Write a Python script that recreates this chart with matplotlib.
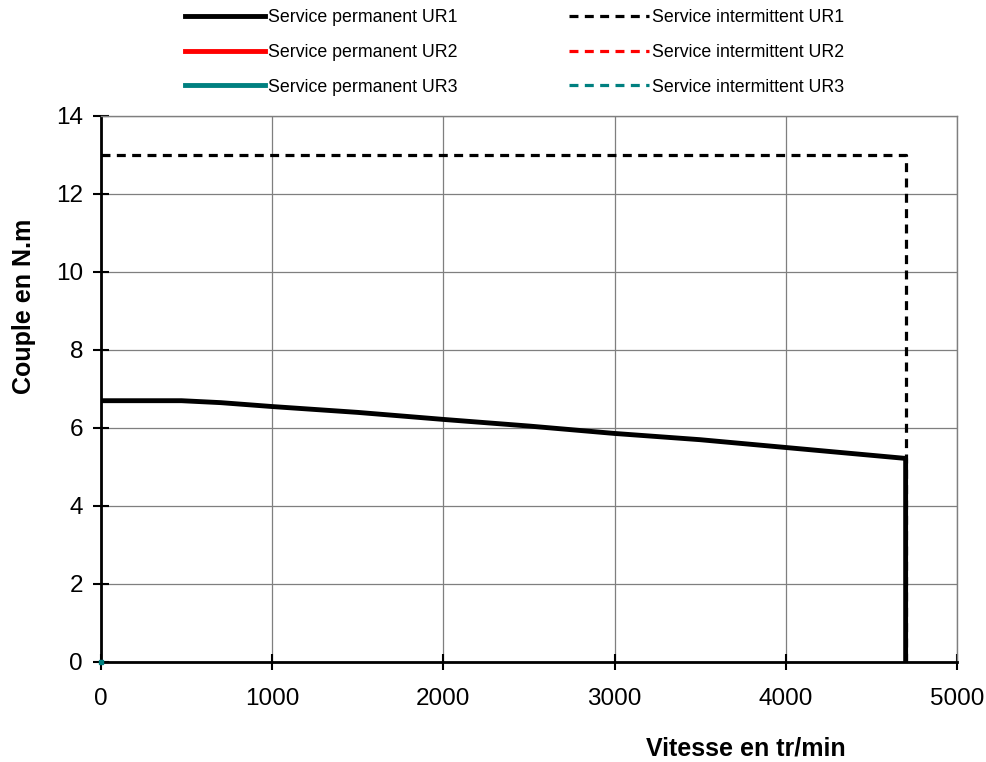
import matplotlib
matplotlib.use('Agg')
import matplotlib.pyplot as plt

plt.rcParams['font.family'] = ['Liberation Sans', 'DejaVu Sans']

# courbes couple / vitesse
perm_speed = [0, 470, 700, 1000, 1500, 2000, 2500, 3000, 3500, 4000, 4500, 4700, 4700]
perm_torque = [6.7, 6.7, 6.65, 6.55, 6.4, 6.22, 6.05, 5.86, 5.7, 5.5, 5.3, 5.22, 0]
inter_speed = [0, 4700, 4700]
inter_torque = [13, 13, 0]
ur2_speed = [0]
ur2_torque = [0]
ur3_speed = [0]
ur3_torque = [0]

labels = ['Service permanent UR1', 'Service permanent UR2', 'Service permanent UR3',
          'Service intermittent UR1', 'Service intermittent UR2', 'Service intermittent UR3']

fig = plt.figure(figsize=(9.87, 7.62), dpi=100)
ax = fig.add_axes([101 / 987, 100 / 762, 856 / 987, 546 / 762])

ax.plot(perm_speed, perm_torque, color='black', lw=3.5, zorder=4, label=labels[0])
ax.plot(ur2_speed, ur2_torque, color='#ff0000', lw=3.5, label=labels[1])
ax.plot(ur3_speed, ur3_torque, color='#008080', lw=3.5, label=labels[2])
ax.plot(inter_speed, inter_torque, color='black', lw=2.3, ls=(0, (2.8, 2)), zorder=3, label=labels[3])
ax.plot(ur2_speed, ur2_torque, color='#ff0000', lw=2.3, ls=(0, (2.8, 2)), label=labels[4])
ax.plot(ur3_speed, ur3_torque, color='#008080', lw=2.3, ls=(0, (2.8, 2)), label=labels[5])
ax.plot(ur3_speed, ur3_torque, color='#008080', marker='s', ms=3, ls='none', zorder=5, clip_on=False)

ax.set_xlim(0, 5000)
ax.set_ylim(0, 14)
ax.set_xticks(range(0, 5001, 1000))
ax.set_yticks(range(0, 15, 2))
ax.grid(color='#7f7f7f', lw=0.9)
ax.set_axisbelow(True)
ax.tick_params(direction='inout', length=12, width=1.5, labelsize=17.5)
ax.tick_params(axis='x', pad=13)
ax.tick_params(axis='y', pad=7)
for s in ['left', 'bottom']:
    ax.spines[s].set_linewidth(2)
for s in ['top', 'right']:
    ax.spines[s].set_color('#7f7f7f')
    ax.spines[s].set_linewidth(1)

fig.text(746 / 987, 1 - 748 / 762, 'Vitesse en tr/min', fontsize=18, fontweight='bold',
         ha='center', va='center')
fig.text(24 / 987, 1 - 306 / 762, 'Couple en N.m', fontsize=18, fontweight='bold',
         ha='center', va='center', rotation=90)

fig.legend(loc='upper left', bbox_to_anchor=(185 / 987, 1 - 9 / 762), ncol=2, frameon=False,
           fontsize=12.8, handlelength=4.5, handletextpad=0.15, columnspacing=6.3,
           labelspacing=1.0, borderpad=0, borderaxespad=0)

plt.savefig('out.png', dpi=100)
